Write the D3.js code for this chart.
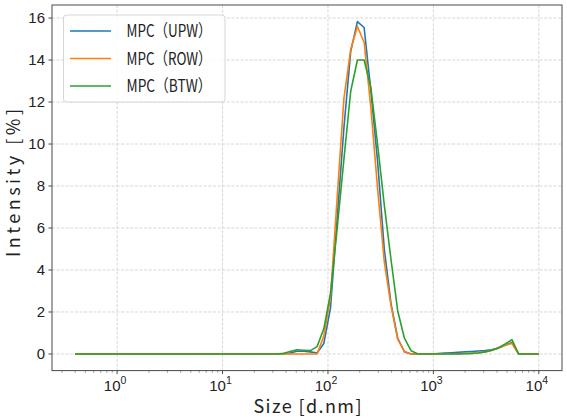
<!DOCTYPE html>
<html>
<head>
<meta charset="utf-8">
<script src="https://cdn.jsdelivr.net/npm/d3@7"></script>
<style>
    body { margin: 0; background: #fff; }
    svg { display: block; }
</style>
</head>
<body>
<div id="chart"></div>
<script>
'use strict';

// size bins (d.nm), 70 bins from the DLS instrument
const sizes = [0.4, 0.4632, 0.5365, 0.6213, 0.7195, 0.8332, 0.9649, 1.117, 1.294, 1.499,
    1.736, 2.01, 2.328, 2.696, 3.122, 3.615, 4.187, 4.849, 5.615, 6.503,
    7.531, 8.721, 10.1, 11.7, 13.54, 15.69, 18.17, 21.04, 24.36, 28.21,
    32.67, 37.84, 43.82, 50.75, 58.77, 68.06, 78.82, 91.28, 105.7, 122.4,
    141.8, 164.2, 190.1, 220.2, 255, 295.3, 342, 396.1, 458.7, 531.2,
    615.1, 712.4, 825, 955.4, 1106, 1281, 1484, 1718, 1990, 2305,
    2669, 3091, 3580, 4145, 4801, 5560, 6439, 7456, 8635, 10000];

const upw = [0, 0, 0, 0, 0, 0, 0, 0, 0, 0,
    0, 0, 0, 0, 0, 0, 0, 0, 0, 0,
    0, 0, 0, 0, 0, 0, 0, 0, 0, 0,
    0, 0, 0.05, 0.13, 0.13, 0.1, 0.05, 0.5, 2.2, 6.5,
    10.8, 14.4, 15.83, 15.55, 12.55, 9.2, 5.0, 2.4, 0.75, 0.1,
    0, 0, 0, 0, 0.02, 0.04, 0.06, 0.08, 0.1, 0.12,
    0.14, 0.16, 0.2, 0.28, 0.42, 0.55, 0, 0, 0, 0];

const row = [0, 0, 0, 0, 0, 0, 0, 0, 0, 0,
    0, 0, 0, 0, 0, 0, 0, 0, 0, 0,
    0, 0, 0, 0, 0, 0, 0, 0, 0, 0,
    0, 0, 0, 0, 0, 0, 0, 0.85, 2.7, 7.5,
    12.2, 14.5, 15.6, 14.85, 11.74, 7.9, 4.4, 2.3, 0.7, 0.12,
    0, 0, 0, 0, 0.005, 0.01, 0.01, 0.01, 0.02, 0.03,
    0.06, 0.1, 0.17, 0.28, 0.42, 0.5, 0, 0, 0, 0];

const btw = [0, 0, 0, 0, 0, 0, 0, 0, 0, 0,
    0, 0, 0, 0, 0, 0, 0, 0, 0, 0,
    0, 0, 0, 0, 0, 0, 0, 0, 0, 0,
    0, 0.03, 0.12, 0.2, 0.18, 0.16, 0.35, 1.2, 2.9, 6.0,
    9.3, 12.5, 14.0, 14.0, 12.7, 10.0, 7.1, 4.5, 2.05, 0.75,
    0.15, 0, 0, 0, 0, 0, 0, 0, 0.01, 0.03,
    0.05, 0.1, 0.18, 0.3, 0.48, 0.68, 0, 0, 0, 0];

const seriesNames = ['MPC（UPW）', 'MPC（ROW）', 'MPC（BTW）'];
const seriesColors = ['#1f77b4', '#ff7f0e', '#2ca02c'];
const yTicks = [0, 2, 4, 6, 8, 10, 12, 14, 16];
const xTicks = [1, 10, 100, 1000, 10000];

const W = 567, H = 418;
const margin = {top: 5, right: 5, bottom: 47.4, left: 52};
const width = W - margin.left - margin.right;
const height = H - margin.top - margin.bottom;

// log x with 5% padding (in log space), like matplotlib autoscale
let lx0 = Math.log10(d3.min(sizes)), lx1 = Math.log10(d3.max(sizes));
let px = (lx1 - lx0) * 0.05;
let x = d3.scaleLog()
    .domain([Math.pow(10, lx0 - px), Math.pow(10, lx1 + px)])
    .range([0, width]);

let allVals = upw.concat(row, btw);
let ymin = d3.min(allVals), ymax = d3.max(allVals);
let py = (ymax - ymin) * 0.05;
let y = d3.scaleLinear().domain([ymin - py, ymax + py]).range([height, 0]);

let svg = d3.select('#chart').append('svg')
    .attr('width', W)
    .attr('height', H);

let g = svg.append('g')
    .attr('transform', 'translate(' + margin.left + ',' + margin.top + ')');

// grid
g.append('g').selectAll('line').data(xTicks).enter().append('line')
    .attr('x1', d => x(d)).attr('x2', d => x(d))
    .attr('y1', 0).attr('y2', height)
    .style('stroke', '#d2d2d2').style('stroke-width', 0.9)
    .style('stroke-dasharray', '3,1.6');

g.append('g').selectAll('line').data(yTicks).enter().append('line')
    .attr('x1', 0).attr('x2', width)
    .attr('y1', d => y(d)).attr('y2', d => y(d))
    .style('stroke', '#d2d2d2').style('stroke-width', 0.9)
    .style('stroke-dasharray', '3,1.6');

// lines
let allSeries = [upw, row, btw];
let line = d3.line()
    .x((d, i) => x(sizes[i]))
    .y(d => y(d));

g.selectAll('.line-graph').data(allSeries).enter()
    .append('path')
    .attr('class', 'line-graph')
    .attr('d', d => line(d))
    .style('fill', 'none')
    .style('stroke', (d, i) => seriesColors[i])
    .style('stroke-width', 1.6)
    .style('stroke-linejoin', 'round');

// frame
g.append('rect')
    .attr('x', 0).attr('y', 0)
    .attr('width', width).attr('height', height)
    .style('fill', 'none').style('stroke', '#4a4a4a').style('stroke-width', 1);

// y ticks
let yAxis = g.append('g');
yTicks.forEach(function (t) {
    yAxis.append('line')
        .attr('x1', -3.5).attr('x2', 0)
        .attr('y1', y(t)).attr('y2', y(t))
        .style('stroke', '#4a4a4a');
    yAxis.append('text')
        .attr('x', -7).attr('y', y(t))
        .attr('dy', '0.36em')
        .style('text-anchor', 'end')
        .style('font-family', 'Liberation Sans, Arial, sans-serif')
        .style('font-size', '15px')
        .style('fill', '#222')
        .text(t);
});

// x ticks, major + minor
let xAxis = g.append('g').attr('transform', 'translate(0,' + height + ')');
let dom = x.domain();
let minors = [];
for (let e = -1; e <= 4; e++) {
    for (let m = 2; m <= 9; m++) {
        let v = m * Math.pow(10, e);
        if (v >= dom[0] && v <= dom[1]) minors.push(v);
    }
}
xAxis.selectAll('.minor').data(minors).enter().append('line')
    .attr('x1', d => x(d)).attr('x2', d => x(d))
    .attr('y1', 0).attr('y2', 2)
    .style('stroke', '#4a4a4a').style('stroke-width', 0.6);

xTicks.forEach(function (t, i) {
    xAxis.append('line')
        .attr('x1', x(t)).attr('x2', x(t))
        .attr('y1', 0).attr('y2', 3.5)
        .style('stroke', '#4a4a4a');
    let lab = xAxis.append('text')
        .attr('x', x(t) - 2).attr('y', 20)
        .style('text-anchor', 'middle')
        .style('font-family', 'Liberation Sans, Arial, sans-serif')
        .style('font-size', '15px')
        .style('fill', '#222');
    lab.append('tspan').text('10');
    lab.append('tspan')
        .attr('dy', -7)
        .style('font-size', '10.5px')
        .text(i);
});

// axis labels, letters spread out to look like the half-width CJK font
const labelFont = '"Noto Sans CJK SC", "Noto Sans", sans-serif';
svg.append('text')
    .attr('x', margin.left + width / 2 + 0.5).attr('y', 413)
    .style('text-anchor', 'middle')
    .style('font-family', labelFont)
    .style('font-weight', 400)
    .style('font-size', '18px')
    .style('fill', '#222')
    .attr('textLength', 108)
    .attr('lengthAdjust', 'spacing')
    .text('Size [d.nm]');

svg.append('text')
    .attr('transform', 'translate(20,' + 183 + ') rotate(-90)')
    .style('text-anchor', 'middle')
    .style('font-family', labelFont)
    .style('font-weight', 400)
    .style('font-size', '18px')
    .style('fill', '#222')
    .attr('textLength', 148)
    .attr('lengthAdjust', 'spacing')
    .text('Intensity [%]');

// legend
let legend = svg.append('g').attr('transform', 'translate(63.5,15)');
legend.append('rect')
    .attr('width', 161.5).attr('height', 87)
    .attr('rx', 3).attr('ry', 3)
    .style('fill', '#fff').style('fill-opacity', 0.85)
    .style('stroke', '#d6d6d6').style('stroke-width', 1);

seriesNames.forEach(function (name, i) {
    let ly = 16 + i * 27.5;
    legend.append('line')
        .attr('x1', 6.5).attr('x2', 47.5)
        .attr('y1', ly).attr('y2', ly)
        .style('stroke', seriesColors[i])
        .style('stroke-width', 1.6);
    legend.append('text')
        .attr('x', 63).attr('y', ly)
        .attr('dy', '0.38em')
        .style('font-family', labelFont)
        .style('font-size', '17px')
        .style('fill', '#222')
        .attr('textLength', 85)
        .attr('lengthAdjust', 'spacingAndGlyphs')
        .text(name);
});
</script>
</body>
</html>
